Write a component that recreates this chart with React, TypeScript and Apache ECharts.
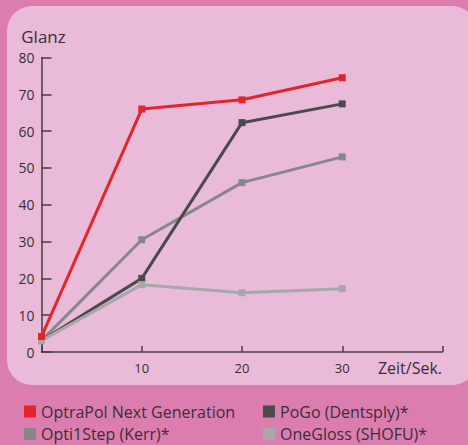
import React, { useEffect, useRef } from "react";
import * as echarts from "echarts";

const xValues = [0, 10, 20, 30];
const seriesNames = [
  "OptraPol Next Generation",
  "PoGo (Dentsply)*",
  "Opti1Step (Kerr)*",
  "OneGloss (SHOFU)*",
];
const optraPol = [4.2, 66, 68.5, 74.5];
const poGo = [3.1, 20, 62.3, 67.4];
const opti1Step = [3.1, 30.5, 46, 53];
const oneGloss = [3.1, 18.3, 16.1, 17.2];
const xTickLabels = ["", "10", "20", "30", ""];
const yAxisTitle = "Glanz";
const xAxisTitle = "Zeit/Sek.";

const colors = ["#e1252b", "#4a4a4c", "#87878a", "#a8a8ab"];
const textColor = "#3b2d37";
const axisColor = "#4a3a45";
const FONT = "'Open Sans', 'Noto Sans', sans-serif";

export default function App() {
  const ref = useRef<HTMLDivElement>(null);
  useEffect(() => {
    if (!ref.current) return;
    const chart = echarts.init(ref.current, undefined, { renderer: "svg" });
    const dataSets = [optraPol, poGo, opti1Step, oneGloss];
    const zs = [5, 3, 2, 4];
    const legendPos = [
      { left: 24, top: 403.5 },
      { left: 263, top: 403.5 },
      { left: 24, top: 426 },
      { left: 263, top: 426 },
    ];
    chart.setOption({
      animation: false,
      backgroundColor: "#dc7db0",
      textStyle: { fontFamily: FONT },
      graphic: [
        {
          type: "rect",
          z: -10,
          silent: true,
          shape: { x: 7, y: 6, width: 470, height: 379, r: 25 },
          style: { fill: "#eabbd8" },
        },
        {
          type: "text",
          z: 10,
          x: 442,
          y: 368,
          style: {
            text: xAxisTitle,
            fill: textColor,
            font: `16px ${FONT}`,
            textAlign: "right",
            textVerticalAlign: "middle",
          },
        },
      ],
      grid: { left: 41.5, right: 25.5, top: 57.5, bottom: 93 },
      xAxis: {
        type: "value",
        min: 0,
        max: 40,
        interval: 10,
        axisLine: { lineStyle: { color: axisColor, width: 1.5 } },
        axisTick: { inside: true, length: 6, lineStyle: { color: axisColor, width: 1.5 } },
        splitLine: { show: false },
        axisLabel: {
          color: textColor,
          fontSize: 13,
          margin: 9,
          fontFamily: FONT,
          formatter: (v: number) => xTickLabels[Math.round(v / 10)] ?? "",
        },
      },
      yAxis: {
        type: "value",
        min: 0,
        max: 80,
        interval: 10,
        name: yAxisTitle,
        nameLocation: "end",
        nameGap: 13,
        nameTextStyle: { color: textColor, fontSize: 17, fontFamily: FONT, padding: [0, 0, 0, 4] },
        axisLine: { show: true, lineStyle: { color: axisColor, width: 1.5 } },
        axisTick: { show: true, inside: true, length: 10, lineStyle: { color: axisColor, width: 1.5 } },
        splitLine: { show: false },
        axisLabel: { color: textColor, fontSize: 14, margin: 7, fontFamily: FONT },
      },
      legend: seriesNames.map((n, i) => ({
        data: [n],
        left: legendPos[i].left,
        top: legendPos[i].top,
        padding: 0,
        icon: "rect",
        itemWidth: 12,
        itemHeight: 12,
        selectedMode: false,
        textStyle: { color: textColor, fontSize: 16, lineHeight: 16, fontFamily: FONT },
      })),
      series: seriesNames.map((n, i) => ({
        name: n,
        type: "line",
        z: zs[i],
        data: xValues.map((x, j) => [x, dataSets[i][j]]),
        color: colors[i],
        lineStyle: { color: colors[i], width: 3 },
        itemStyle: { color: colors[i] },
        symbol: "rect",
        symbolSize: 7,
        showSymbol: true,
      })),
    });
    return () => chart.dispose();
  }, []);
  return (
    <div
      ref={ref}
      style={{ position: "absolute", left: 0, top: 0, width: 468, height: 445 }}
    />
  );
}
